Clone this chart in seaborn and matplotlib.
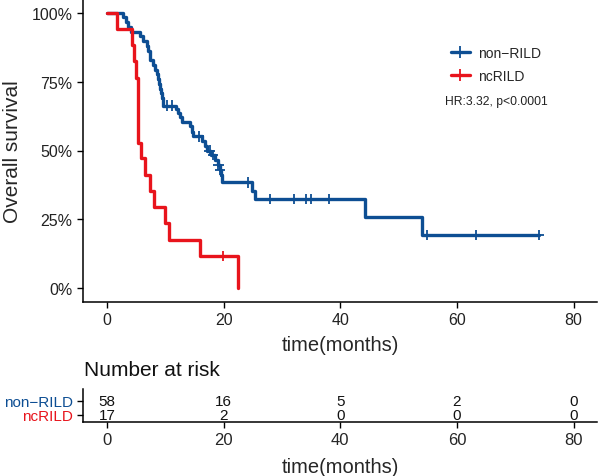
import numpy as np
import pandas as pd
import matplotlib
matplotlib.use("Agg")
import matplotlib.pyplot as plt
import seaborn as sns
from matplotlib.lines import Line2D

# Kaplan-Meier steps (months, survival fraction)
groups = ["non\u2212RILD", "ncRILD"]
colors = ["#0d4e93", "#e8141c"]

blue_times = [0, 2.8, 3.2, 3.6, 4.2, 5.6, 6.2, 6.8, 7.1, 7.3, 7.4, 7.9, 8.2, 8.5,
              8.8, 9.0, 9.1, 9.3, 9.4, 9.6, 11.9, 12.2, 12.5, 12.8, 14.2, 14.5,
              14.8, 16.3, 16.8, 17.1, 17.9, 18.5, 19.0, 19.3, 19.5, 19.7, 24.8,
              25.4, 44.3, 54.0, 74.0]
blue_surv = [1.0, 0.983, 0.966, 0.948, 0.931, 0.914, 0.897, 0.879, 0.862, 0.845,
             0.828, 0.810, 0.793, 0.776, 0.759, 0.741, 0.724, 0.707, 0.690, 0.663,
             0.649, 0.636, 0.621, 0.605, 0.588, 0.566, 0.551, 0.535, 0.518, 0.500,
             0.483, 0.466, 0.449, 0.430, 0.410, 0.384, 0.354, 0.324, 0.259, 0.194,
             0.194]
blue_censor = [10.3, 11.1, 15.7, 17.6, 18.2, 19.1, 19.4, 24.2, 27.9, 32.0, 34.2,
               34.9, 38.1, 54.8, 63.2, 74.0]

red_times = [0, 1.7, 4.3, 4.7, 5.0, 5.3, 5.9, 6.5, 7.4, 8.1, 9.9, 10.6, 16.0, 22.4]
red_surv = [1.0, 0.941, 0.882, 0.824, 0.765, 0.529, 0.471, 0.412, 0.353, 0.294,
            0.235, 0.176, 0.118, 0.0]
red_censor = [19.9]

risk_times = [0, 20, 40, 60, 80]
risk_blue = [58, 16, 5, 2, 0]
risk_red = [17, 2, 0, 0, 0]

hr_text = "HR:3.32, p<0.0001"


def surv_at(times, surv, t):
    i = np.searchsorted(times, t, side="right") - 1
    return surv[i]


curves = pd.concat([
    pd.DataFrame({"time": blue_times, "surv": blue_surv, "group": groups[0]}),
    pd.DataFrame({"time": red_times, "surv": red_surv, "group": groups[1]}),
])
censors = pd.concat([
    pd.DataFrame({"time": blue_censor,
                  "surv": [surv_at(blue_times, blue_surv, t) for t in blue_censor],
                  "group": groups[0]}),
    pd.DataFrame({"time": red_censor,
                  "surv": [surv_at(red_times, red_surv, t) for t in red_censor],
                  "group": groups[1]}),
])

sns.set_style("ticks")
plt.rcParams["font.family"] = ["Liberation Sans", "DejaVu Sans"]

W, H = 598, 477
fig = plt.figure(figsize=(W / 100, H / 100), dpi=100)
ax = fig.add_axes([83 / W, 1 - 303 / H, 514 / W, 303 / H])

palette = dict(zip(groups, colors))
sns.lineplot(data=curves, x="time", y="surv", hue="group", hue_order=groups,
             palette=palette, drawstyle="steps-post", estimator=None,
             sort=False, linewidth=2.4, legend=False, ax=ax)
sns.scatterplot(data=censors, x="time", y="surv", hue="group", hue_order=groups,
                palette=palette, marker="+", s=55, linewidth=1.3,
                legend=False, ax=ax, zorder=3)

ax.set_xlim(-4.1, 84)
ax.set_ylim(-0.05, 1.05)
ax.set_xticks(risk_times)
ax.set_yticks([0, 0.25, 0.5, 0.75, 1.0])
ax.set_yticklabels(["0%", "25%", "50%", "75%", "100%"])
ax.tick_params(labelsize=11.5, width=1, length=4, color="black", labelcolor="#222222")
for s in ["top", "right"]:
    ax.spines[s].set_visible(False)
for s in ["left", "bottom"]:
    ax.spines[s].set_linewidth(1.1)
    ax.spines[s].set_color("black")
ax.set_xlabel("time(months)", fontsize=14.5)
ax.set_ylabel("Overall survival", fontsize=15)
ax.xaxis.set_label_coords(0.5, -0.11)
ax.yaxis.set_label_coords(-0.118, 0.5)

handles = [Line2D([], [], color=c, lw=2.4, marker="+", markersize=8, mew=1.3)
           for c in colors]
ax.legend(handles, groups, loc="center left", bbox_to_anchor=(0.715, 0.784),
          frameon=False, fontsize=10, handlelength=1.4, handletextpad=0.6,
          labelspacing=0.6, borderpad=0, borderaxespad=0)
ax.text(0.8035, 0.663, hr_text, transform=ax.transAxes, fontsize=8.7,
        ha="center", va="center", color="#222222")

# risk table
rax = fig.add_axes([83 / W, 1 - 423 / H, 514 / W, 33 / H])
rax.set_xlim(-4.1, 84)
rax.set_ylim(0.5, 2.857)
for row, counts in zip([2, 1], [risk_blue, risk_red]):
    for t, n in zip(risk_times, counts):
        rax.text(t, row, str(n), ha="center", va="center", fontsize=11,
                 color="#111111")
rax.set_xticks(risk_times)
rax.set_yticks([2, 1])
rax.set_yticklabels(groups)
for lab, c in zip(rax.get_yticklabels(), colors):
    lab.set_color(c)
rax.tick_params(labelsize=12, width=1, length=4, color="black")
rax.tick_params(axis="y", labelsize=11, pad=3)
for s in ["top", "right"]:
    rax.spines[s].set_visible(False)
for s in ["left", "bottom"]:
    rax.spines[s].set_linewidth(1.1)
    rax.spines[s].set_color("black")
rax.set_xlabel("time(months)", fontsize=14.5)
rax.xaxis.set_label_coords(0.5, -1.05)
fig.text(84 / W, 1 - 371 / H, "Number at risk", fontsize=15, ha="left",
         va="center", color="#111111")

fig.savefig("out.png", dpi=100)
